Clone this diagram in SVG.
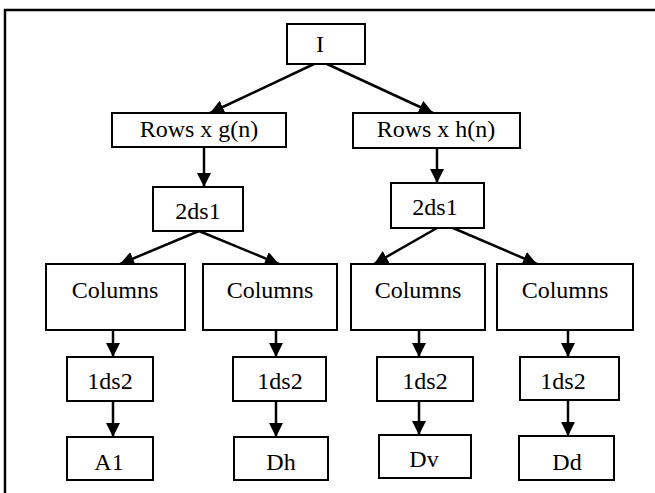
<svg xmlns="http://www.w3.org/2000/svg" width="655" height="493" viewBox="0 0 655 493">
  <style>
    .box { fill: #fff; stroke: #000; stroke-width: 2; }
    .lbl { font-family: "Liberation Serif", "Times New Roman", serif; font-size: 24px; fill: #000; text-anchor: middle; }
    .edge { stroke: #000; stroke-width: 2.5; fill: none; marker-end: url(#arrow); }
  </style>
  <defs>
    <marker id="arrow" viewBox="0 0 10 10" refX="10" refY="5" markerUnits="userSpaceOnUse" markerWidth="14" markerHeight="14" orient="auto">
      <path d="M0,0 L10,5 L0,10 Z" fill="#000"/>
    </marker>
  </defs>

  <rect width="655" height="493" fill="#fff"/>
  <!-- outer frame (only top and left edges fall inside the canvas) -->
  <path d="M5,493 L5,10 L655,10" fill="none" stroke="#000" stroke-width="2.5"/>

  <g id="connectors">
    <line class="edge" x1="314" y1="64" x2="210" y2="113"/>
    <line class="edge" x1="327" y1="64" x2="433" y2="113"/>
    <line class="edge" x1="204" y1="147" x2="204" y2="187"/>
    <line class="edge" x1="437" y1="148" x2="437" y2="183"/>
    <line class="edge" x1="199" y1="231" x2="120" y2="264"/>
    <line class="edge" x1="199" y1="231" x2="279" y2="264"/>
    <line class="edge" x1="437" y1="228" x2="374" y2="264"/>
    <line class="edge" x1="453" y1="228" x2="537" y2="264"/>
    <line class="edge" x1="113" y1="330" x2="113" y2="357"/>
    <line class="edge" x1="276" y1="330" x2="276" y2="357"/>
    <line class="edge" x1="419" y1="330" x2="419" y2="357"/>
    <line class="edge" x1="568" y1="330" x2="568" y2="357"/>
    <line class="edge" x1="113" y1="401" x2="113" y2="437"/>
    <line class="edge" x1="276" y1="401" x2="276" y2="437"/>
    <line class="edge" x1="419" y1="401" x2="419" y2="435"/>
    <line class="edge" x1="568" y1="400" x2="568" y2="436"/>
  </g>

  <g id="node-I">
    <rect class="box" x="287" y="24" width="78" height="40"/>
    <text class="lbl" x="320" y="52">I</text>
  </g>
  <g id="node-rows-g">
    <rect class="box" x="112" y="113" width="174" height="34"/>
    <text class="lbl" x="199" y="137">Rows x g(n)</text>
  </g>
  <g id="node-rows-h">
    <rect class="box" x="353" y="113" width="167" height="35"/>
    <text class="lbl" x="436" y="137">Rows x h(n)</text>
  </g>
  <g id="node-2ds1-a">
    <rect class="box" x="153" y="187" width="90" height="44"/>
    <text class="lbl" x="198" y="219">2ds1</text>
  </g>
  <g id="node-2ds1-b">
    <rect class="box" x="391" y="183" width="93" height="45"/>
    <text class="lbl" x="435" y="215">2ds1</text>
  </g>
  <g id="node-col-1">
    <rect class="box" x="46" y="264" width="139" height="66"/>
    <text class="lbl" x="115" y="298">Columns</text>
  </g>
  <g id="node-col-2">
    <rect class="box" x="203" y="264" width="134" height="66"/>
    <text class="lbl" x="270" y="298">Columns</text>
  </g>
  <g id="node-col-3">
    <rect class="box" x="351" y="264" width="134" height="66"/>
    <text class="lbl" x="418" y="298">Columns</text>
  </g>
  <g id="node-col-4">
    <rect class="box" x="497" y="264" width="136" height="66"/>
    <text class="lbl" x="565" y="298">Columns</text>
  </g>
  <g id="node-1ds2-1">
    <rect class="box" x="67" y="357" width="86" height="44"/>
    <text class="lbl" x="110" y="389">1ds2</text>
  </g>
  <g id="node-1ds2-2">
    <rect class="box" x="233" y="357" width="93" height="44"/>
    <text class="lbl" x="280" y="389">1ds2</text>
  </g>
  <g id="node-1ds2-3">
    <rect class="box" x="377" y="357" width="96" height="44"/>
    <text class="lbl" x="425" y="389">1ds2</text>
  </g>
  <g id="node-1ds2-4">
    <rect class="box" x="520" y="357" width="99" height="43"/>
    <text class="lbl" x="563" y="389">1ds2</text>
  </g>
  <g id="node-A1">
    <rect class="box" x="67" y="437" width="86" height="43"/>
    <text class="lbl" x="109" y="470">A1</text>
  </g>
  <g id="node-Dh">
    <rect class="box" x="234" y="437" width="94" height="43"/>
    <text class="lbl" x="281" y="470">Dh</text>
  </g>
  <g id="node-Dv">
    <rect class="box" x="379" y="435" width="92" height="43"/>
    <text class="lbl" x="424" y="467">Dv</text>
  </g>
  <g id="node-Dd">
    <rect class="box" x="519" y="436" width="95" height="44"/>
    <text class="lbl" x="567" y="470">Dd</text>
  </g>
</svg>
